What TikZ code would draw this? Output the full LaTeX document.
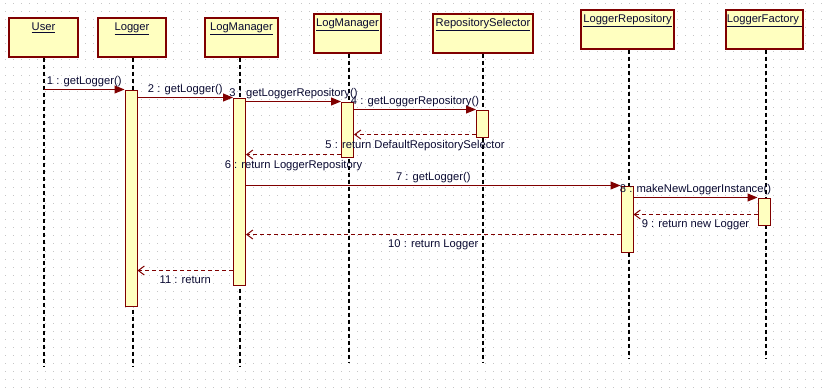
\documentclass[tikz,border=0pt]{standalone}
\usepackage{fontspec}
\setmainfont{Liberation Sans}
\usepackage{xcolor}
\usetikzlibrary{arrows.meta}

\definecolor{boxfill}{RGB}{255,255,192}
\definecolor{boxline}{RGB}{128,0,0}
\definecolor{msgline}{RGB}{128,0,0}
\definecolor{txtblue}{RGB}{10,10,50}

\tikzset{
  headbox/.style={draw=boxline, line width=1.4pt, fill=boxfill, minimum height=39pt, inner sep=0pt},
  actbar/.style={draw=boxline, line width=1pt, fill=boxfill, minimum width=12pt, inner sep=0pt},
  lifeline/.style={black, line width=1.2pt, dash pattern=on 4pt off 3pt},
  call/.style={msgline, line width=1pt, -{Triangle[length=10pt,width=8pt]}},
  reply/.style={msgline, line width=1pt, dash pattern=on 4pt off 3pt, -{Straight Barb[length=6pt,width=9pt]}},
  msglabel/.style={text=txtblue, font=\fontsize{11.2}{13}\selectfont, inner sep=1pt}
}

\begin{document}
\begin{tikzpicture}[x=1pt, y=-1pt]
  \useasboundingbox (0,0) rectangle (823,391);
  \fill[white] (0,0) rectangle (823,391);

  %% dotted background grid
  \foreach \gy in {3.3,11.3,...,391}
    \draw[gray!45, line width=1pt, dash pattern=on 1pt off 7pt] (5,\gy) -- (823,\gy);

  %% object heads
  \foreach \n/\x/\y/\w/\t in {
      user/43.5/37.5/69/User,
      logger/132/37.5/68/Logger,
      lmOne/241.5/37.5/73/LogManager,
      lmTwo/347.5/33.5/67/LogManager,
      repSel/483/33.5/100/RepositorySelector,
      logRepo/627.5/29.5/93/LoggerRepository,
      logFact/764.5/29.5/77/LoggerFactory
  } {
    \node[headbox, minimum width=\w pt,
          label={[anchor=north, yshift=-4pt, msglabel]north:\underline{\t}}] (\n) at (\x,\y) {};
  }

  %% lifelines
  \foreach \n/\x/\e in {user/44/367, logger/133/367, lmOne/240/367, lmTwo/349/363,
                        repSel/483/363, logRepo/629/359, logFact/766/359} {
    \coordinate (\n End) at (\x,\e);
    \draw[lifeline] (\n End |- \n.south) -- (\n End);
  }

  %% activation bars
  \foreach \n/\x/\t/\b in {
      loggerAct/131/90/306,
      lmOneAct/239.5/98/285,
      lmTwoAct/347.5/102/157,
      repSelAct/482.5/110/137,
      logRepoAct/627/186/252,
      logFactAct/764/198/225
  } {
    \node[actbar, minimum height={(\b-\t)*1pt}] (\n) at (\x,{(\t+\b)/2}) {};
  }

  %% calls
  \draw[call] (userEnd |- loggerAct.north) -- (loggerAct.north west)
    node[midway, above=1pt, msglabel] {1 : getLogger()};
  \draw[call] (loggerAct.east |- lmOneAct.north) -- (lmOneAct.north west)
    node[midway, above=1pt, msglabel] {2 : getLogger()};
  \draw[call] (lmOneAct.east |- lmTwoAct.north) -- (lmTwoAct.north west)
    node[midway, above=1pt, msglabel] {3 : getLoggerRepository()};
  \draw[call] (lmTwoAct.east |- repSelAct.north) -- (repSelAct.north west)
    node[midway, above=1pt, msglabel] {4 : getLoggerRepository()};
  \draw[call] (lmOneAct.east |- logRepoAct.north) -- (logRepoAct.north west)
    node[midway, above=1pt, msglabel] {7 : getLogger()};
  \draw[call] (logRepoAct.east |- logFactAct.north) -- (logFactAct.north west)
    node[midway, above=1pt, msglabel] {8 : makeNewLoggerInstance()};

  %% returns
  \draw[reply] ([yshift=3pt]repSelAct.south west) -- ([yshift=3pt]repSelAct.south west -| lmTwoAct.east)
    node[midway, below=4pt, msglabel] {5 : return DefaultRepositorySelector};
  \draw[reply] ([yshift=3pt]lmTwoAct.south west) -- ([yshift=3pt]lmTwoAct.south west -| lmOneAct.east)
    node[midway, below=4pt, msglabel] {6 : return LoggerRepository};
  \draw[reply] ([yshift=11pt]logFactAct.south west) -- ([yshift=11pt]logFactAct.south west -| logRepoAct.east)
    node[midway, below=4pt, msglabel] {9 : return new Logger};
  \draw[reply] ([yshift=18pt]logRepoAct.south west) -- ([yshift=18pt]logRepoAct.south west -| lmOneAct.east)
    node[midway, below=4pt, msglabel] {10 : return Logger};
  \draw[reply] ([yshift=15pt]lmOneAct.south west) -- ([yshift=15pt]lmOneAct.south west -| loggerAct.east)
    node[midway, below=4pt, msglabel] {11 : return};
\end{tikzpicture}
\end{document}
